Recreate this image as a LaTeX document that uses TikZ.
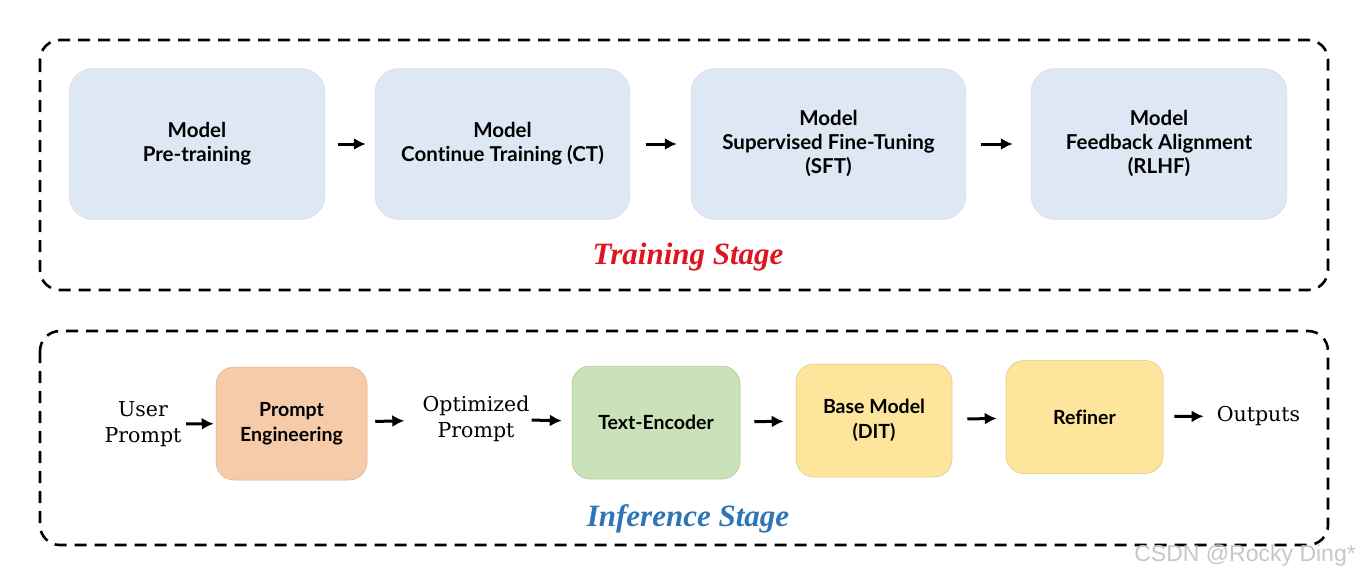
\documentclass[tikz,border=0pt]{standalone}
\usepackage{fontspec}
\setmainfont{Liberation Serif}
\newfontfamily\boxfont[Ligatures=NoCommon]{Lato}
\newfontfamily\typefont{DejaVu Serif}
\newfontfamily\wmfont{Liberation Sans}
\usetikzlibrary{arrows.meta}
\definecolor{tbox}{HTML}{DDE8F4}
\definecolor{peach}{HTML}{F6CBAA}
\definecolor{green1}{HTML}{C9E2B8}
\definecolor{yell}{HTML}{FDE59B}
\definecolor{tred}{HTML}{E0141E}
\definecolor{iblue}{HTML}{2E75B6}
\tikzset{
  stagebox/.style={draw=black, line width=2.6pt, dash pattern=on 12pt off 8pt, rounded corners=20pt},
  topbox/.style={fill=tbox, draw=tbox!85!gray, line width=0.4pt, rounded corners=24pt, minimum height=151pt, align=center, font=\boxfont\bfseries\fontsize{20.5}{24}\selectfont, inner sep=0pt},
  botbox/.style={draw=#1!85!black, line width=0.5pt, fill=#1, rounded corners=18pt, minimum height=113pt, align=center, font=\boxfont\bfseries\fontsize{19.5}{25}\selectfont, inner sep=0pt},
  plain/.style={align=center, inner sep=0pt, font=\typefont\fontsize{20.5}{26}\selectfont},
  conn2/.style 2 args={-{Latex[length=12pt,width=12pt]}, line width=3pt, shorten <=#1, shorten >=#2},
  stagelabel/.style={font=\bfseries\itshape\fontsize{31}{31}\selectfont, inner sep=0pt}
}
\begin{document}
\begin{tikzpicture}[x=1pt,y=-1pt]
\useasboundingbox (0,0) rectangle (1359,581);
% stage frames
\draw[stagebox] (40,40) rectangle (1328,290);
\draw[stagebox] (40,331) rectangle (1328,545);
% training stage
\node[topbox, minimum width=256pt] (pt) at (197,144) {Model\\Pre-training};
\node[topbox, minimum width=255pt] (ct) at (502.5,144) {Model\\Continue Training (CT)};
\node[topbox, minimum width=275pt] (sft) at (828.5,144) {Model\\Supervised Fine-Tuning\\(SFT)};
\node[topbox, minimum width=256pt] (rlhf) at (1159,144) {Model\\Feedback Alignment\\(RLHF)};
\draw[conn2={13pt}{9pt}] (pt) -- (ct);
\draw[conn2={16pt}{14pt}] (ct) -- (sft);
\draw[conn2={15pt}{18pt}] (sft) -- (rlhf);
\node[stagelabel, text=tred] (tl) at (688,257) {Training Stage};
% inference stage
\node[plain, minimum width=80pt] (user) at (143,424) {User\\Prompt};
\node[botbox=peach, minimum width=151pt] (pe) at (291.5,423.5) {Prompt\\Engineering};
\node[plain, minimum width=107pt] (opt) at (476,419) {Optimized\\Prompt};
\node[botbox=green1, minimum width=168pt] (te) at (656,422.5) {Text-Encoder};
\node[botbox=yell, minimum width=156pt] (base) at (874,420.5) {Base Model\\(DIT)};
\node[botbox=yell, minimum width=157pt] (ref) at (1084.5,417) {Refiner};
\node[plain, minimum width=83pt] (out) at (1258.5,416) {Outputs};
\draw[conn2={3pt}{2pt}] (user) -- (pe);
\draw[conn2={8pt}{18pt}] (pe) -- (opt);
\draw[conn2={2pt}{10pt}] (opt) -- (te);
\draw[conn2={14pt}{12pt}] (te) -- (base);
\draw[conn2={15pt}{9pt}] (base) -- (ref);
\draw[conn2={11pt}{13pt}] (ref) -- (out);
\node[stagelabel, text=iblue] (il) at (688,519) {Inference Stage};
% watermark
\node[font=\wmfont\fontsize{23}{23}\selectfont, text=black!22, anchor=east, inner sep=0pt] (wm) at (1356,556) {CSDN @Rocky Ding*};
\end{tikzpicture}
\end{document}
